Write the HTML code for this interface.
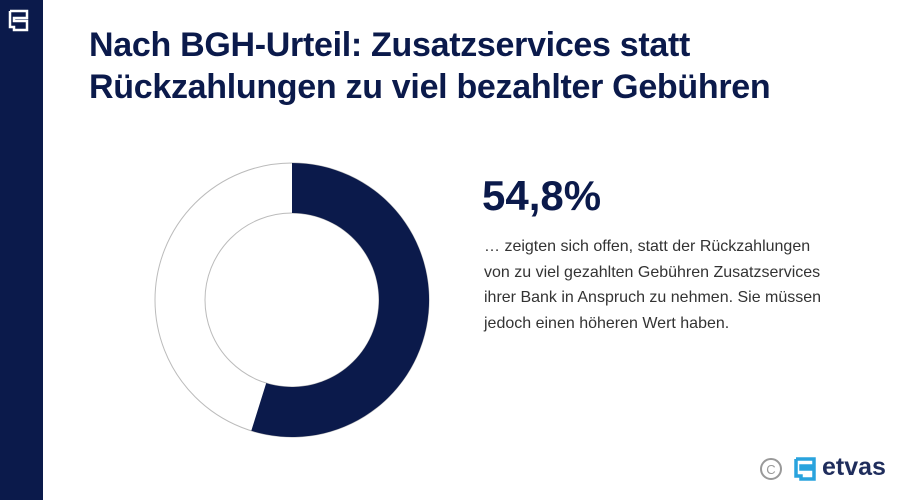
<!DOCTYPE html>
<html><head><meta charset="utf-8"><style>
body{margin:0;width:900px;height:500px;background:#fff;position:relative;overflow:hidden;font-family:"Liberation Sans",sans-serif}
.side{position:absolute;left:0;top:0;width:43px;height:500px;background:#0b1a4b}
h1{position:absolute;left:89px;top:24px;margin:0;font-size:34px;line-height:42px;color:#0b1a4b;font-weight:bold;letter-spacing:-0.3px}
.pct{position:absolute;left:482px;top:172px;font-size:42px;font-weight:bold;color:#0b1a4b}
.txt{position:absolute;left:484px;top:234px;font-size:16px;line-height:25.5px;color:#333}
.etvas{position:absolute;left:822px;top:453px;font-size:25px;font-weight:bold;color:#1f2d5c}
</style></head><body>
<div class="side"></div>
<svg style="position:absolute;left:0;top:0" width="900" height="500">
<path d="M10 11h17v7h-13v3h13v9h-13v-3h-4v-16" fill="none" stroke="#fff" stroke-width="2.5"/>
<circle cx="292" cy="300" r="112" fill="none" stroke="#bbb" stroke-width="51"/>
<circle cx="292" cy="300" r="112" fill="none" stroke="#fff" stroke-width="49"/>
<path d="M292 163 A137 137 0 1 1 251.3 430.8 L266.2 383.1 A87 87 0 1 0 292 213 Z" fill="#0b1a4b"/>
<circle cx="771" cy="469" r="10" fill="none" stroke="#999" stroke-width="2"/>
<text x="771" y="474" font-size="13" text-anchor="middle" fill="#999" font-family="Liberation Sans">C</text>
<path d="M796 459h18v7h-13v3h13v10h-13v-3h-5v-17" fill="none" stroke="#29a3dd" stroke-width="3.5"/>
</svg>
<h1>Nach BGH-Urteil: Zusatzservices statt<br>Rückzahlungen zu viel bezahlter Gebühren</h1>
<div class="pct">54,8%</div>
<div class="txt">… zeigten sich offen, statt der Rückzahlungen<br>von zu viel gezahlten Gebühren Zusatzservices<br>ihrer Bank in Anspruch zu nehmen. Sie müssen<br>jedoch einen höheren Wert haben.</div>
<div class="etvas">etvas</div>
</body></html>
